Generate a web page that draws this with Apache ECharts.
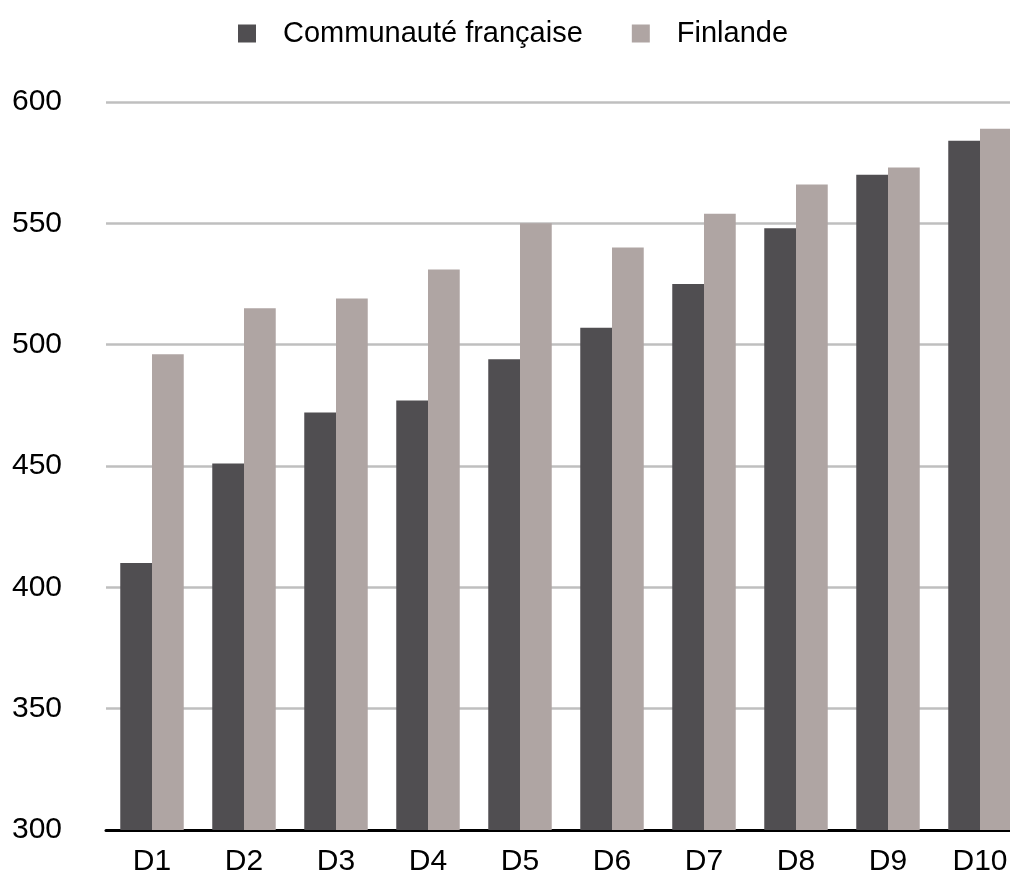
<!DOCTYPE html>
<html>
<head>
<meta charset="utf-8">
<script src="https://cdn.jsdelivr.net/npm/echarts@6/dist/echarts.min.js"></script>
<style>
  html, body { margin: 0; padding: 0; background: #fff; overflow: hidden; }
  #chart { width: 1010px; height: 887px; }
</style>
</head>
<body>
<div id="chart"></div>
<script>
const categories = ["D1", "D2", "D3", "D4", "D5", "D6", "D7", "D8", "D9", "D10"];
const communaute = [410, 451, 472, 477, 494, 507, 525, 548, 570, 584];
const finlande = [496, 515, 519, 531, 550, 540, 554, 566, 573, 589];
const seriesNames = ["Communauté française", "Finlande"];
const colorList = ["#504e51", "#afa5a3"];

const chart = echarts.init(document.getElementById("chart"));
const font = "'Liberation Sans', Arial, Helvetica, sans-serif";

chart.setOption({
  backgroundColor: "#fff",
  animation: false,
  color: colorList,
  legend: {
    top: 14,
    left: 233,
    icon: "rect",
    itemWidth: 18,
    itemHeight: 18,
    itemGap: 49,
    textStyle: {
      fontFamily: font,
      fontSize: 29,
      color: "#000",
      padding: [0, 0, 0, 22],
    },
    data: seriesNames,
  },
  grid: {
    left: 106,
    top: 102,
    width: 920, // runs past the right edge, as in the original
    bottom: 57,
    containLabel: false,
    outerBoundsMode: "none",
  },
  xAxis: {
    type: "category",
    data: categories,
    axisTick: { show: false },
    axisLine: {
      show: true,
      lineStyle: { color: "#000", width: 3 },
    },
    axisLabel: {
      fontFamily: font,
      fontSize: 30,
      color: "#000",
      margin: 17,
    },
  },
  yAxis: {
    type: "value",
    min: 300,
    max: 600,
    interval: 50,
    axisTick: { show: false },
    axisLine: { show: false },
    axisLabel: {
      fontFamily: font,
      fontSize: 30,
      color: "#000",
      align: "left",
      margin: 94,
    },
    splitLine: {
      lineStyle: { color: "#bfbfbf", width: 2.5 },
    },
  },
  series: [
    {
      name: seriesNames[0],
      type: "bar",
      data: communaute,
      barGap: "0%",
      barCategoryGap: "31%",
      itemStyle: { color: colorList[0] },
    },
    {
      name: seriesNames[1],
      type: "bar",
      data: finlande,
      barGap: "0%",
      barCategoryGap: "31%",
      itemStyle: { color: colorList[1] },
    },
  ],
});
</script>
</body>
</html>
